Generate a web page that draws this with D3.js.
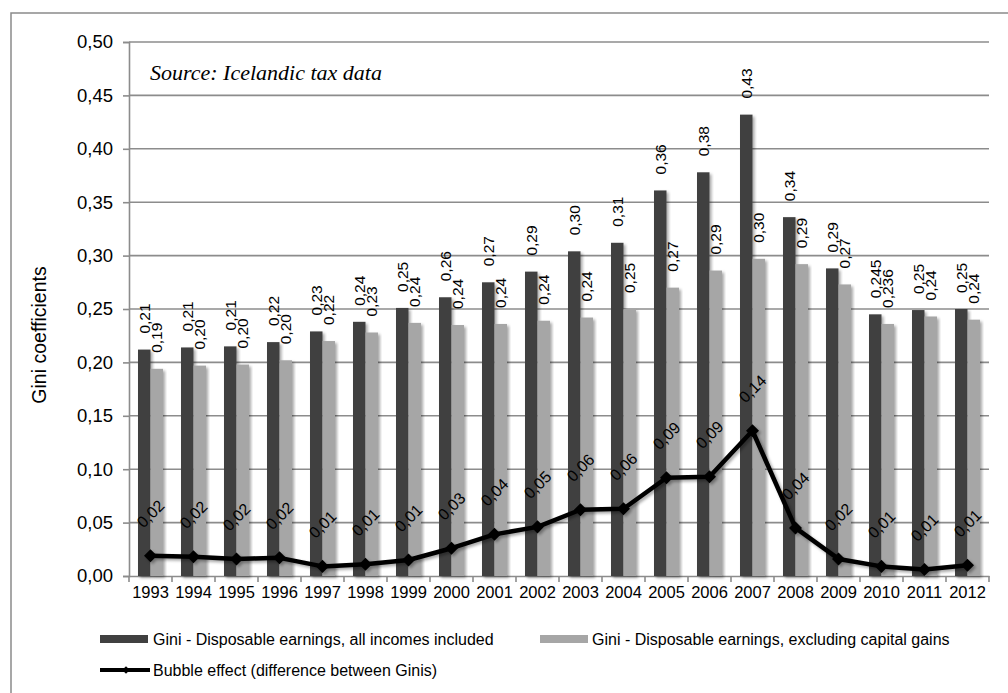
<!DOCTYPE html>
<html>
<head>
<meta charset="utf-8">
<script src="https://cdn.jsdelivr.net/npm/d3@7"></script>
<style>
  html, body { margin: 0; padding: 0; background: #fff; }
  svg { display: block; }
</style>
</head>
<body>
<svg id="chart" width="1008" height="693" font-family="Liberation Sans, Arial, sans-serif"></svg>
<script>
// ---- data ----
const years = ["1993","1994","1995","1996","1997","1998","1999","2000","2001","2002",
               "2003","2004","2005","2006","2007","2008","2009","2010","2011","2012"];
const giniAll = [0.212,0.214,0.215,0.219,0.229,0.238,0.251,0.261,0.275,0.285,
                 0.304,0.312,0.361,0.378,0.432,0.336,0.288,0.245,0.249,0.250];
const giniAllLabels = ["0,21","0,21","0,21","0,22","0,23","0,24","0,25","0,26","0,27","0,29",
                       "0,30","0,31","0,36","0,38","0,43","0,34","0,29","0,245","0,25","0,25"];
const giniExcl = [0.194,0.197,0.198,0.202,0.220,0.228,0.237,0.235,0.236,0.239,
                  0.242,0.250,0.270,0.286,0.297,0.292,0.273,0.236,0.243,0.240];
const giniExclLabels = ["0,19","0,20","0,20","0,20","0,22","0,23","0,24","0,24","0,24","0,24",
                        "0,24","0,25","0,27","0,29","0,30","0,29","0,27","0,236","0,24","0,24"];
const bubble = [0.019,0.018,0.016,0.017,0.009,0.011,0.015,0.026,0.039,0.046,
                0.062,0.063,0.092,0.093,0.136,0.045,0.016,0.009,0.006,0.010];
const bubbleLabels = ["0,02","0,02","0,02","0,02","0,01","0,01","0,01","0,03","0,04","0,05",
                      "0,06","0,06","0,09","0,09","0,14","0,04","0,02","0,01","0,01","0,01"];
const yTicks = [0,0.05,0.10,0.15,0.20,0.25,0.30,0.35,0.40,0.45,0.50];
const seriesNames = ["Gini - Disposable earnings, all incomes included",
                     "Gini - Disposable earnings, excluding capital gains",
                     "Bubble effect (difference between Ginis)"];
const yTitle = "Gini coefficients";
const sourceNote = "Source: Icelandic tax data";

// ---- layout ----
const L = 129, R = 989, T = 42, B = 576;
const darkCol = "#404040", lightCol = "#a6a6a6", gridCol = "#8c8c8c";
const SANS = "'Liberation Sans', Arial, sans-serif";
const svg = d3.select("#chart");

const defs = svg.append("defs");
const f = defs.append("filter").attr("id","shadow").attr("x","-30%").attr("y","-10%")
  .attr("width","160%").attr("height","130%");
f.append("feDropShadow").attr("dx",2).attr("dy",2).attr("stdDeviation",1.6)
  .attr("flood-color","#000").attr("flood-opacity",0.35);

// outer frame
svg.append("rect").attr("x",11).attr("y",13).attr("width",1010).attr("height",700)
  .attr("fill","none").attr("stroke","#8a8a8a").attr("stroke-width",1.5);

const x0 = d3.scaleBand().domain(years).range([L,R]).padding(0);
const x1 = d3.scaleBand().domain(["all","excl"]).range([0,x0.bandwidth()])
  .paddingInner(0).paddingOuter(0.72);
const y = d3.scaleLinear().domain([0,0.5]).range([B,T]);
const fmt = v => d3.format(".2f")(v).replace(".", ",");

// gridlines
svg.append("g").selectAll("line").data(yTicks.filter(d=>d>0)).join("line")
  .attr("x1",L).attr("x2",R).attr("y1",d=>y(d)).attr("y2",d=>y(d))
  .attr("stroke",gridCol).attr("stroke-width",1.6);

// y axis
const yAxis = svg.append("g").attr("transform",`translate(${L},0)`)
  .call(d3.axisLeft(y).tickValues(yTicks).tickFormat(fmt).tickSize(6).tickPadding(10));
yAxis.select(".domain").attr("stroke",gridCol).attr("stroke-width",1.6);
yAxis.selectAll(".tick line").attr("stroke",gridCol).attr("stroke-width",1.6);
yAxis.selectAll(".tick text").attr("font-size",18.5).attr("font-family",SANS).attr("fill","#000");

// x axis
const xAxis = svg.append("g").attr("transform",`translate(0,${B})`)
  .call(d3.axisBottom(x0).tickSize(0).tickPadding(10));
xAxis.select(".domain").attr("stroke",gridCol).attr("stroke-width",1.6);
xAxis.selectAll(".tick text").attr("font-size",16.5).attr("font-family",SANS).attr("fill","#000");
// category boundary ticks
svg.append("g").selectAll("line").data(years.concat(["end"])).join("line")
  .attr("x1",(d,i)=> i<years.length ? x0(d) : R)
  .attr("x2",(d,i)=> i<years.length ? x0(d) : R)
  .attr("y1",B).attr("y2",B+6).attr("stroke",gridCol).attr("stroke-width",1.6);

// bars
const groups = svg.append("g").selectAll("g").data(years).join("g")
  .attr("transform",d=>`translate(${x0(d)},0)`);
groups.append("rect").attr("x",x1("all")).attr("width",x1.bandwidth())
  .attr("y",(d,i)=>y(giniAll[i])).attr("height",(d,i)=>B-y(giniAll[i]))
  .attr("fill",darkCol).attr("filter","url(#shadow)");
groups.append("rect").attr("x",x1("excl")).attr("width",x1.bandwidth())
  .attr("y",(d,i)=>y(giniExcl[i])).attr("height",(d,i)=>B-y(giniExcl[i]))
  .attr("fill",lightCol).attr("filter","url(#shadow)");

// bar labels (rotated)
groups.append("text")
  .attr("transform",(d,i)=>`translate(${x1("all")+x1.bandwidth()/2},${y(giniAll[i])-16}) rotate(-90)`)
  .attr("dy","0.35em").attr("font-size",15.5).text((d,i)=>giniAllLabels[i]);
groups.append("text")
  .attr("transform",(d,i)=>`translate(${x1("excl")+x1.bandwidth()/2},${y(giniExcl[i])-16}) rotate(-90)`)
  .attr("dy","0.35em").attr("font-size",15.5).text((d,i)=>giniExclLabels[i]);

// bubble line
const cx = d => x0(d) + x0.bandwidth()/2;
const line = d3.line().x((d,i)=>cx(years[i])).y(d=>y(d));
const lg = svg.append("g").attr("filter","url(#shadow)");
lg.append("path").datum(bubble).attr("d",line).attr("fill","none")
  .attr("stroke","#000").attr("stroke-width",4.5).attr("stroke-linejoin","round");
lg.selectAll("path.m").data(bubble).join("path").attr("class","m")
  .attr("d",d3.symbol().type(d3.symbolSquare).size(85))
  .attr("transform",(d,i)=>`translate(${cx(years[i])},${y(d)}) rotate(45)`)
  .attr("fill","#000");
svg.append("g").selectAll("text").data(bubble).join("text")
  .attr("transform",(d,i)=>`translate(${cx(years[i])},${y(d)-42}) rotate(-45)`)
  .attr("text-anchor","middle").attr("dy","0.35em").attr("font-size",16)
  .text((d,i)=>bubbleLabels[i]);

// source note
svg.append("text").attr("x",150).attr("y",80)
  .style("font-family","'Liberation Serif', 'DejaVu Serif', serif").style("font-style","italic")
  .attr("font-size",22).text(sourceNote);

// y title
svg.append("text").attr("transform","translate(46,335) rotate(-90)")
  .attr("text-anchor","middle").attr("font-size",19.5).text(yTitle);

// legend
const leg = svg.append("g");
leg.append("rect").attr("x",100).attr("y",635).attr("width",48).attr("height",8).attr("fill",darkCol);
leg.append("text").attr("x",153).attr("y",639).attr("dy","0.35em").attr("font-size",16).text(seriesNames[0]);
leg.append("rect").attr("x",540).attr("y",635).attr("width",48).attr("height",8).attr("fill",lightCol);
leg.append("text").attr("x",592).attr("y",639).attr("dy","0.35em").attr("font-size",16).text(seriesNames[1]);
leg.append("line").attr("x1",100).attr("x2",150).attr("y1",670).attr("y2",670)
  .attr("stroke","#000").attr("stroke-width",4);
leg.append("path").attr("d",d3.symbol().type(d3.symbolSquare).size(30))
  .attr("transform","translate(126,670) rotate(45)").attr("fill","#000");
leg.append("text").attr("x",153).attr("y",670).attr("dy","0.35em").attr("font-size",16).text(seriesNames[2]);
</script>
</body>
</html>
